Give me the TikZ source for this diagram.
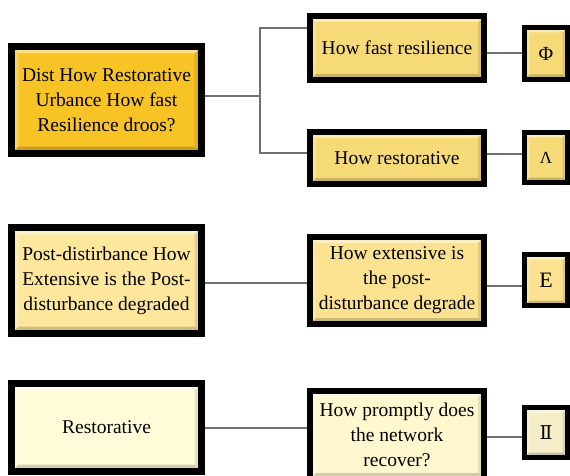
\documentclass[tikz,border=0pt]{standalone}
\usepackage{fontspec}
\setmainfont{Liberation Serif}
\newfontfamily\dvserif{DejaVu Serif}
\definecolor{gold}{HTML}{F8C324}
\definecolor{ylw}{HTML}{F6DA78}
\definecolor{ylwb}{HTML}{FCE79C}
\definecolor{ylwc}{HTML}{FAE290}
\definecolor{pale}{HTML}{FFFCDA}
\definecolor{paleb}{HTML}{FFF8CF}
\definecolor{palec}{HTML}{F4EDC8}
\definecolor{conn}{HTML}{707070}
\tikzset{
  bevel/.style={path picture={
    \fill[white,opacity=.45] (path picture bounding box.north west) -- (path picture bounding box.north east)
      -- ([shift={(-#1pt,-#1pt)}]path picture bounding box.north east) -- ([shift={(#1pt,-#1pt)}]path picture bounding box.north west) -- cycle;
    \fill[white,opacity=.25] (path picture bounding box.north west) -- ([shift={(#1pt,-#1pt)}]path picture bounding box.north west)
      -- ([shift={(#1pt,#1pt)}]path picture bounding box.south west) -- (path picture bounding box.south west) -- cycle;
    \fill[black,opacity=.18] (path picture bounding box.south west) -- (path picture bounding box.south east)
      -- ([shift={(-#1pt,#1pt)}]path picture bounding box.south east) -- ([shift={(#1pt,#1pt)}]path picture bounding box.south west) -- cycle;
    \fill[black,opacity=.10] (path picture bounding box.north east) -- ([shift={(-#1pt,-#1pt)}]path picture bounding box.north east)
      -- ([shift={(-#1pt,#1pt)}]path picture bounding box.south east) -- (path picture bounding box.south east) -- cycle;
  }},
  bigbox/.style={draw=black, line width=7pt, inner sep=0pt, align=center, bevel=7,
    font=\fontsize{19.5}{25}\selectfont},
  midbox/.style={draw=black, line width=6pt, inner sep=0pt, align=center, bevel=6,
    font=\fontsize{19.5}{25}\selectfont},
  smallbox/.style={draw=black, line width=5pt, inner sep=0pt, align=center, bevel=5},
  link/.style={draw=conn, line width=2.2pt},
}
\begin{document}
\begin{tikzpicture}[x=1pt,y=-1pt]
\useasboundingbox (0,0) rectangle (570,476);
\clip (0,0) rectangle (570,476);
% row 1
\node[bigbox, fill=gold, minimum width=190pt, minimum height=107pt] (dist) at (106.5,100)
  {Dist How Restorative\\Urbance How fast\\Resilience droos?};
\node[midbox, fill=ylw, minimum width=174pt, minimum height=64pt] (hf) at (397,48) {How fast resilience};
\node[smallbox, fill=ylw, minimum width=43pt, minimum height=52pt, font=\fontsize{20}{24}\selectfont] (phi) at (546,53.5) {Φ};
\node[midbox, fill=ylw, minimum width=174pt, minimum height=52pt] (hr) at (397,158) {How restorative};
\node[smallbox, fill=ylw, minimum width=43pt, minimum height=50pt, font=\fontsize{17}{20}\selectfont] (lam) at (546,157.5) {Λ};
% row 2
\node[bigbox, fill=ylwb, minimum width=190pt, minimum height=106pt] (post) at (106.5,280.5)
  {Post-distirbance How\\Extensive is the Post-\\disturbance degraded};
\node[midbox, fill=ylwc, minimum width=174pt, minimum height=87pt] (he) at (397,280.5)
  {How extensive is\\the post-\\disturbance degrade};
\node[smallbox, fill=ylwc, minimum width=43pt, minimum height=51pt, font=\fontsize{22}{26}\selectfont] (eps) at (546,280) {E};
% row 3
\node[bigbox, fill=pale, minimum width=190pt, minimum height=88pt] (rest) at (106.5,427.5) {Restorative};
\node[midbox, fill=paleb, minimum width=174pt, minimum height=88pt] (hp) at (397,435)
  {How promptly does\\the network\\recover?};
\node[smallbox, fill=palec, minimum width=43pt, minimum height=50pt, font=\dvserif\fontsize{19}{22}\selectfont] (two) at (546,432.5) {Ⅱ};
% connectors
\coordinate (jm) at (260,96);
\coordinate (jt) at (260,28);
\coordinate (jb) at (260,153);
\draw[link] (dist.east |- jm) -- (jm);
\draw[link] (jt -| hf.west) -- (jt) -- (jb) -- (jb -| hr.west);
\coordinate (c1) at (0,53);
\draw[link] (c1 -| hf.east) -- (c1 -| phi.west);
\coordinate (c2) at (0,154);
\draw[link] (c2 -| hr.east) -- (c2 -| lam.west);
\coordinate (c3) at (0,283);
\draw[link] (c3 -| post.east) -- (c3 -| he.west);
\coordinate (c4) at (0,286);
\draw[link] (c4 -| he.east) -- (c4 -| eps.west);
\coordinate (c5) at (0,428);
\draw[link] (c5 -| rest.east) -- (c5 -| hp.west);
\coordinate (c6) at (0,437);
\draw[link] (c6 -| hp.east) -- (c6 -| two.west);
\end{tikzpicture}
\end{document}
